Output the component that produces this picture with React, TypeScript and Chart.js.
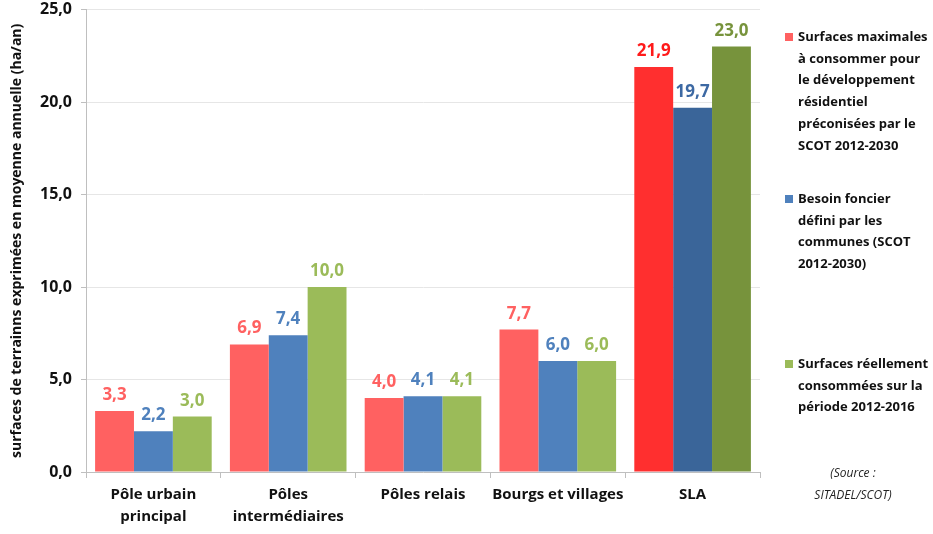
import React, { useEffect, useRef } from 'react';
import { Chart, registerables } from 'chart.js';

Chart.register(...registerables);

const FONT = '"Open Sans", "Noto Sans", sans-serif';

// ---- data ----
const categories: (string | string[])[] = [
  ['Pôle urbain', 'principal'],
  ['Pôles', 'intermédiaires'],
  'Pôles relais',
  'Bourgs et villages',
  'SLA',
];

const seriesNames = [
  'Surfaces maximales à consommer pour le développement résidentiel préconisées par le SCOT 2012-2030',
  'Besoin foncier défini par les communes (SCOT 2012-2030)',
  'Surfaces réellement consommées sur la période 2012-2016',
];

const legendLines: string[][] = [
  ['Surfaces maximales', 'à consommer pour', 'le développement', 'résidentiel', 'préconisées par le', 'SCOT 2012-2030'],
  ['Besoin foncier', 'défini par les', 'communes (SCOT', '2012-2030)'],
  ['Surfaces réellement', 'consommées sur la', 'période 2012-2016'],
];

const surfacesMaximales = [3.3, 6.9, 4.0, 7.7, 21.9];
const besoinFoncier = [2.2, 7.4, 4.1, 6.0, 19.7];
const surfacesConsommees = [3.0, 10.0, 4.1, 6.0, 23.0];

const yMin = 0;
const yMax = 25;
const yStep = 5;

const yTitle = 'surfaces de terrainns exprimées en moyenne annuelle (ha/an)';
const sourceLines = ['(Source :', 'SITADEL/SCOT)'];

// colours: [normal, highlighted (SLA)]
const seriesColors = [
  { normal: '#ff6161', strong: '#ff2f2f', label: '#ff6161', strongLabel: '#ff1a1a' },
  { normal: '#4f81bd', strong: '#3a6599', label: '#4f81bd', strongLabel: '#3d69a3' },
  { normal: '#9bbb59', strong: '#77933c', label: '#9bbb59', strongLabel: '#77933c' },
];
const highlightIndex = 4;

const fmt = (v: number) => Number(v).toFixed(1).replace('.', ',');

const valueLabels = {
  id: 'valueLabels',
  afterDatasetsDraw(chart: any) {
    const ctx = chart.ctx;
    chart.data.datasets.forEach((ds: any, di: number) => {
      const meta = chart.getDatasetMeta(di);
      meta.data.forEach((bar: any, i: number) => {
        const c = seriesColors[di];
        ctx.save();
        ctx.font = `bold 17px ${FONT}`;
        ctx.fillStyle = i === highlightIndex ? c.strongLabel : c.label;
        ctx.textAlign = 'center';
        ctx.textBaseline = 'alphabetic';
        ctx.fillText(fmt(ds.data[i]), bar.x, bar.y - 11);
        ctx.restore();
      });
    });
  },
};

export default function App() {
  const ref = useRef<HTMLCanvasElement | null>(null);

  useEffect(() => {
    if (!ref.current) return;
    const values = [surfacesMaximales, besoinFoncier, surfacesConsommees];
    const chart = new Chart(ref.current, {
      type: 'bar',
      data: {
        labels: categories as any,
        datasets: values.map((d, di) => ({
          label: seriesNames[di],
          data: d,
          backgroundColor: d.map((_, i) => (i === highlightIndex ? seriesColors[di].strong : seriesColors[di].normal)),
          borderWidth: 0,
          barPercentage: 1,
          categoryPercentage: 0.865,
        })),
      },
      options: {
        animation: false,
        responsive: true,
        maintainAspectRatio: false,
        layout: { padding: { top: 0, right: 173, left: 0, bottom: 0 } },
        plugins: {
          legend: { display: false },
          tooltip: { enabled: false },
          title: { display: false },
        },
        scales: {
          x: {
            grid: { drawOnChartArea: false, drawTicks: true, tickLength: 6, tickColor: '#bfbfbf', offset: true },
            border: { color: '#bfbfbf', width: 1 },
            ticks: {
              font: { family: FONT, size: 15, weight: 'bold', lineHeight: 1.45 },
              color: '#111',
              padding: 6,
              maxRotation: 0,
              autoSkip: false,
            },
            afterFit: (s: any) => { s.height = 62; },
          },
          y: {
            min: yMin,
            max: yMax,
            grid: { color: '#e6e6e6', tickColor: '#bfbfbf', tickLength: 5 },
            border: { color: '#bfbfbf', width: 1 },
            ticks: {
              stepSize: yStep,
              font: { family: FONT, size: 16, weight: 'bold' },
              color: '#111',
              padding: 9,
              callback: (v: any) => fmt(v),
            },
            title: {
              display: true,
              text: yTitle,
              font: { family: FONT, size: 14, weight: 'bold', lineHeight: 1.2 },
              color: '#111',
              padding: { top: 9, bottom: 0 },
            },
            afterFit: (s: any) => { s.width = 86; },
          },
        },
      },
      plugins: [valueLabels],
    } as any);
    return () => chart.destroy();
  }, []);

  const lh = 21.7;
  const entryTops = [26, 188, 353];

  return (
    <div style={{ position: 'fixed', left: 0, top: 0, width: 933, height: 534, background: '#fff', fontFamily: FONT, overflow: 'hidden' }}>
      <div style={{ position: 'absolute', left: 0, top: -9, width: 933, height: 543 }}>
        <canvas ref={ref} />
      </div>
      {legendLines.map((lines, i) => (
        <div key={i} style={{ position: 'absolute', left: 798, top: entryTops[i], fontSize: 13, fontWeight: 'bold', color: '#111', lineHeight: `${lh}px`, whiteSpace: 'nowrap' }}>
          <span style={{ position: 'absolute', left: -13, top: (lh - 8) / 2, width: 8, height: 8, background: seriesColors[i].normal }} />
          {lines.map((l, j) => (
            <div key={j}>{l}</div>
          ))}
        </div>
      ))}
      <div style={{ position: 'absolute', left: 793, width: 120, top: 462, fontSize: 12, fontStyle: 'italic', color: '#222', lineHeight: '22px', textAlign: 'center', whiteSpace: 'nowrap' }}>
        {sourceLines.map((l, j) => (
          <div key={j}>{l}</div>
        ))}
      </div>
    </div>
  );
}
